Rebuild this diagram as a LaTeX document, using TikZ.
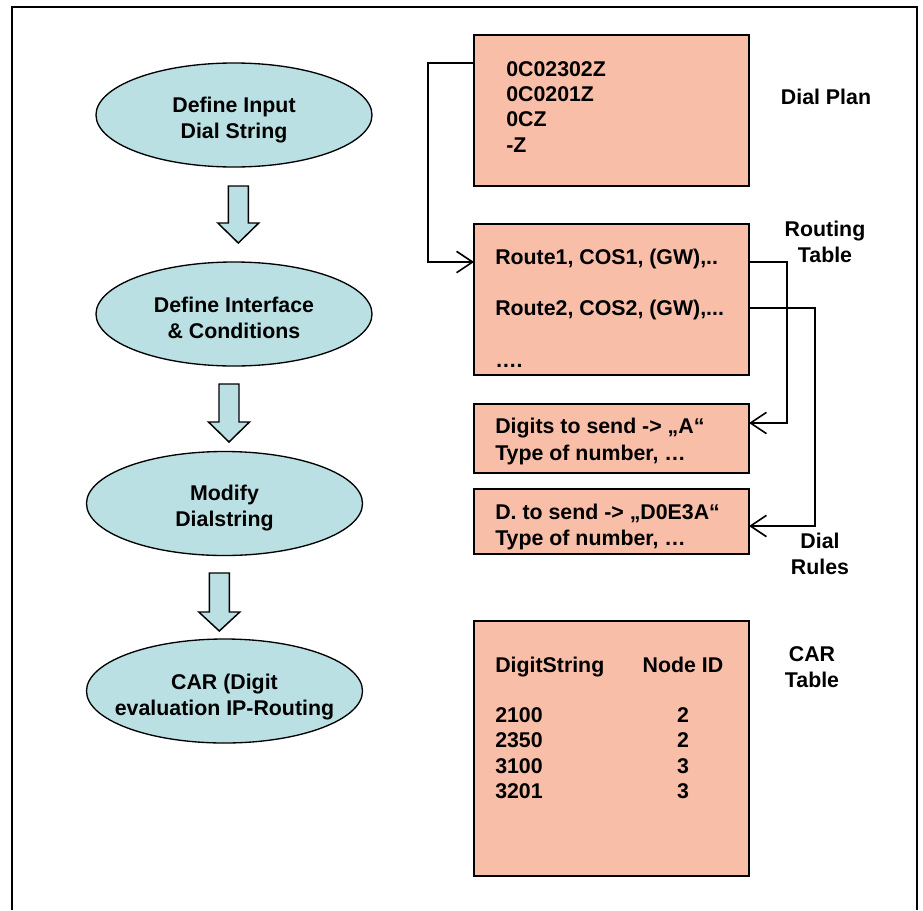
\documentclass[tikz,border=0pt]{standalone}
\usepackage{fontspec}
\setmainfont{Liberation Sans}
\usetikzlibrary{shapes.geometric,arrows.meta}
\definecolor{tealfill}{RGB}{186,224,227}
\definecolor{salmon}{RGB}{248,190,168}
\newcommand{\blockarr}[4]{%
  \draw[barrow] ({#1-10},#2) -- ({#1+10},#2) -- ({#1+10},#3) -- ({#1+20.5},#3)
     -- (#1,#4) -- ({#1-20.5},#3) -- ({#1-10},#3) -- cycle;}
\begin{document}
\begin{tikzpicture}[x=0.75pt,y=-0.75pt,
  txt/.style={font=\bfseries\fontsize{16pt}{19.5pt}\selectfont, inner sep=0pt},
  oval/.style={ellipse, draw=black, line width=1pt, fill=tealfill, inner sep=0pt,
     minimum width=207pt, minimum height=78pt},
  ovaltext/.style={align=center, inner sep=0pt, font=\bfseries\fontsize{16pt}{19.5pt}\selectfont},
  tbox/.style={rectangle, draw=black, line width=1.6pt, fill=salmon, inner sep=0pt,
     minimum width=206.25pt},
  barrow/.style={draw=black, line width=1.1pt, fill=tealfill, line join=miter},
  conn/.style={draw=black, line width=1.2pt},
  arr/.style={conn, -{Straight Barb[length=12pt,width=16pt]}},
  lbl/.style={txt, align=center}
]
\useasboundingbox (0,0) rectangle (923,910);
% frame
\draw[line width=1.6pt] (12,910) -- (12,7) -- (917,7) -- (917,910);

% left flow
\node[oval] (e1) at (234,115) {};
\node[ovaltext] (t1) at (234,120.5) {Define Input\\Dial String};
\node[oval] (e2) at (234,314) {};
\node[ovaltext] (t2) at (234,318) {Define Interface\\\& Conditions};
\node[oval] (e3) at (224.5,503.5) {};
\node[ovaltext] (t3) at (224.5,508) {Modify\\Dialstring};
\node[oval] (e4) at (224.5,691) {};
\node[ovaltext] (t4) at (224.5,697.5) {CAR (Digit\\evaluation IP-Routing};

\blockarr{238.3}{186}{223}{243}
\blockarr{229}{384}{422}{442}
\blockarr{219.3}{573}{612}{631}

% right boxes
\node[tbox, minimum height=113.25pt] (dp) at (611.5,110.5) {};
\node[tbox, minimum height=113.25pt] (rt) at (611.5,299.5) {};
\node[tbox, minimum height=51.75pt] (dr1) at (611.5,438.5) {};
\node[tbox, minimum height=48.75pt] (dr2) at (611.5,521.5) {};
\node[tbox, minimum height=191.25pt] (car) at (611.5,748.5) {};

% dial plan text
\node[txt, anchor=base west] (dp1) at (506,76) {0C02302Z};
\node[txt, anchor=base west] (dp2) at (506,101) {0C0201Z};
\node[txt, anchor=base west] (dp3) at (506,126) {0CZ};
\node[txt, anchor=base west] (dp4) at (506,152) {-Z};

% routing text
\node[txt, anchor=base west] (rt1) at (495,264) {Route1, COS1, (GW),..};
\node[txt, anchor=base west] (rt2) at (495,315) {Route2, COS2, (GW),...};
\node[txt, anchor=base west] (rt3) at (495,367) {….};

% dial rules text
\node[txt, anchor=base west] (d11) at (495,433) {Digits to send -> „A“};
\node[txt, anchor=base west] (d12) at (495,460) {Type of number, …};
\node[txt, anchor=base west] (d21) at (495,519) {D. to send -> „D0E3A“};
\node[txt, anchor=base west] (d22) at (495,545) {Type of number, …};

% CAR table text
\node[txt, anchor=base west] (ch1) at (495,672) {DigitString};
\node[txt, anchor=base] (ch2) at (683,672) {Node ID};
\node[txt, anchor=base west] (c1) at (495,722) {2100};
\node[txt, anchor=base west] (c2) at (495,747) {2350};
\node[txt, anchor=base west] (c3) at (495,773) {3100};
\node[txt, anchor=base west] (c4) at (495,798) {3201};
\node[txt, anchor=base] (n1) at (683,722) {2};
\node[txt, anchor=base] (n2) at (683,747) {2};
\node[txt, anchor=base] (n3) at (683,773) {3};
\node[txt, anchor=base] (n4) at (683,798) {3};

% side labels
\node[lbl] (ldp) at (826,97) {Dial Plan};
\node[lbl] (lrt) at (825,242) {Routing\\Table};
\node[lbl] (ldr) at (820,554) {Dial\\Rules};
\node[lbl] (lcar) at (812,667) {CAR\\Table};

% connectors
\coordinate (dpA) at (474,63);
\coordinate (rtA) at (474,262);
\coordinate (rtB) at (749,262);
\coordinate (rtC) at (749,308);
\coordinate (dr1A) at (749,423);
\coordinate (dr2A) at (749,526);
\draw[arr] (dpA) -- ++(-46,0) |- (rtA);
\draw[arr] (rtB) -- ++(38,0) |- (dr1A);
\draw[arr] (rtC) -- ++(66,0) |- (dr2A);
\end{tikzpicture}
\end{document}
